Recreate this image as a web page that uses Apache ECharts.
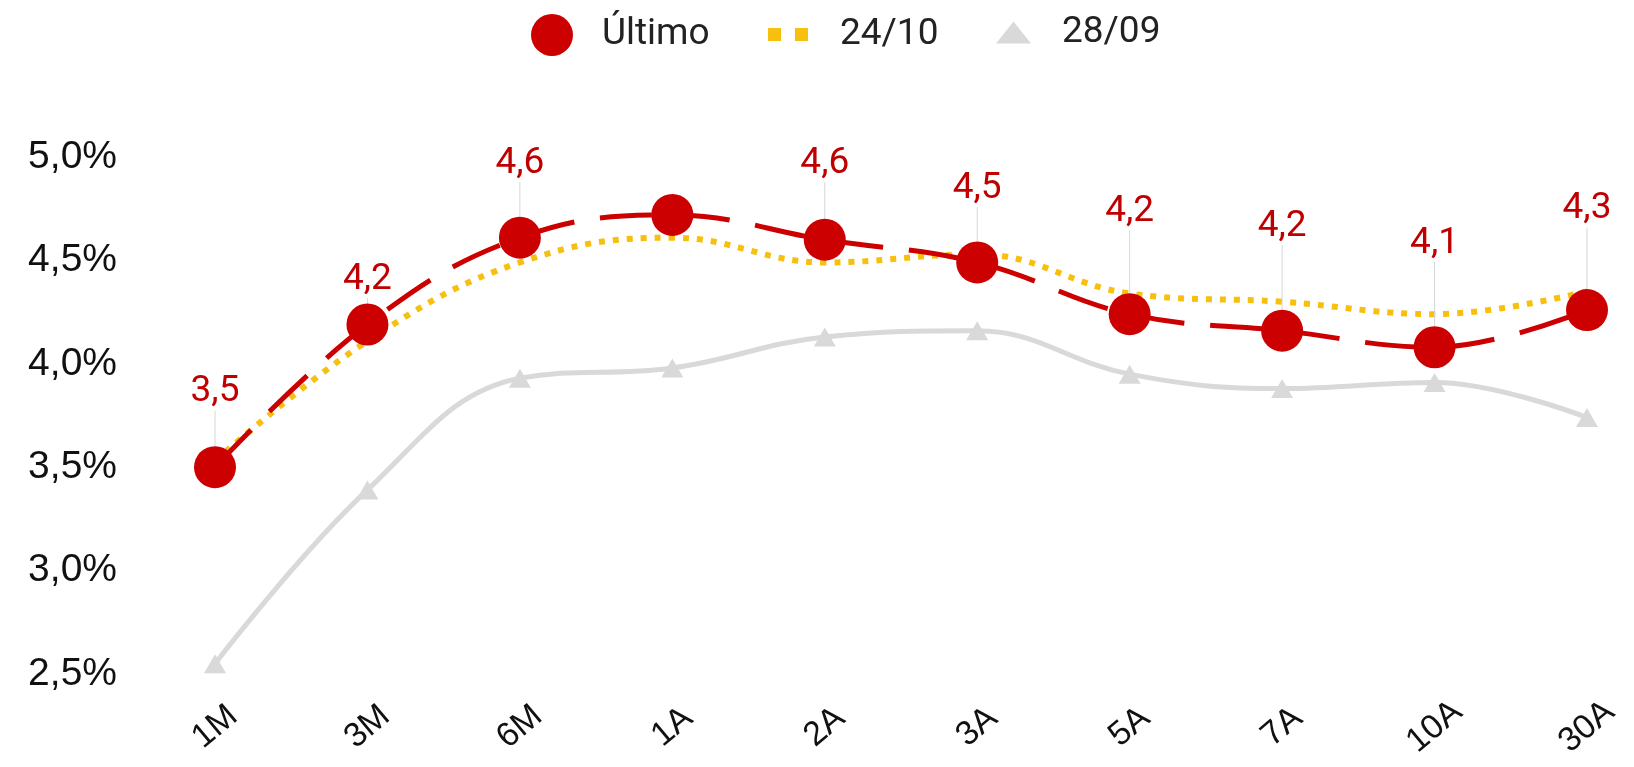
<!DOCTYPE html>
<html>
<head>
    <meta charset="utf-8" />
    <title>Curva</title>
    <script src="https://cdn.jsdelivr.net/npm/echarts@6.0.0/dist/echarts.min.js" type="text/javascript"></script>
    <style>
        body { margin: 0; background: #fff; }
        #main { width: 1634px; height: 767px; }
    </style>
</head>
<body>
    <div id="main"></div>
    <script type="text/javascript">
        // vertices
        var prazos = ['1M', '3M', '6M', '1A', '2A', '3A', '5A', '7A', '10A', '30A'];
        // taxas (%)
        var ultimo = [3.50, 4.19, 4.61, 4.72, 4.60, 4.49, 4.24, 4.16, 4.08, 4.26];
        var dia2410 = [3.53, 4.11, 4.49, 4.61, 4.49, 4.53, 4.34, 4.30, 4.24, 4.35];
        var dia2809 = [2.55, 3.39, 3.93, 3.98, 4.13, 4.16, 3.95, 3.88, 3.91, 3.74];
        var semRotulo = ['1A'];
        // altura dos rotulos acima do ponto (px)
        var subida = [75, 45, 74, 0, 76, 74, 102, 104, 104, 101];

        var vermelho = '#cc0000';
        var amarelo = '#f7c00f';
        var cinza = '#d9d9d9';

        function virgula(v) {
            return v.toFixed(1).replace('.', ',');
        }

        var dadosUltimo = ultimo.map(function (v, i) {
            return {
                value: v,
                label: { show: semRotulo.indexOf(prazos[i]) < 0 }
            };
        });

        var myChart = echarts.init(document.getElementById('main'));

        var option = {
            animation: false,
            backgroundColor: '#fff',
            legend: [
                {
                    data: ['Último'], icon: 'circle', itemWidth: 42, itemHeight: 42,
                    left: 531, top: 14, padding: 0,
                    textStyle: { fontFamily: 'Roboto', fontSize: 37, color: '#222', padding: [16, 0, 0, 24] }
                },
                {
                    data: ['24/10'], icon: 'path://M0,0h13v13h-13zM27,0h13v13h-13z', itemWidth: 40, itemHeight: 13,
                    left: 768, top: 16, padding: 0,
                    textStyle: { fontFamily: 'Roboto', fontSize: 37, color: '#222', padding: [10, 0, 0, 27] }
                },
                {
                    data: ['28/09'], icon: 'triangle', itemWidth: 35, itemHeight: 22,
                    left: 996, top: 14, padding: 0,
                    textStyle: { fontFamily: 'Roboto', fontSize: 37, color: '#222', padding: [18, 0, 0, 26] }
                }
            ],
            grid: {
                left: 215,
                right: 47,
                top: 157,
                bottom: 93
            },
            xAxis: {
                type: 'category',
                data: prazos,
                boundaryGap: false,
                axisLine: { show: false },
                axisTick: { show: false },
                axisLabel: {
                    rotate: 40,
                    align: 'center',
                    verticalAlign: 'middle',
                    margin: 53,
                    fontFamily: 'Liberation Sans',
                    fontSize: 34,
                    color: '#111'
                }
            },
            yAxis: {
                type: 'value',
                min: 2.5,
                max: 5.0,
                interval: 0.5,
                axisLine: { show: false },
                axisTick: { show: false },
                splitLine: { show: false },
                axisLabel: {
                    margin: 98,
                    fontFamily: 'Liberation Sans',
                    fontSize: 39,
                    color: '#111',
                    formatter: function (v) { return virgula(v) + '%'; }
                }
            },
            series: [
                {
                    name: '28/09',
                    type: 'line',
                    data: dia2809,
                    smooth: 0.4,
                    symbol: 'triangle',
                    symbolSize: [22, 19],
                    itemStyle: { color: cinza },
                    lineStyle: { color: cinza, width: 5 },
                    z: 2
                },
                {
                    name: '24/10',
                    type: 'line',
                    data: dia2410,
                    smooth: 0.4,
                    showSymbol: false,
                    itemStyle: { color: amarelo },
                    lineStyle: { color: amarelo, width: 6, type: [6, 8] },
                    z: 3
                },
                {
                    name: 'Último',
                    type: 'line',
                    data: dadosUltimo,
                    smooth: 0.4,
                    symbol: 'circle',
                    symbolSize: 42,
                    itemStyle: { color: vermelho },
                    lineStyle: { color: vermelho, width: 5, type: [52, 26] },
                    label: {
                        show: true,
                        position: 'top',
                        fontFamily: 'Roboto',
                        fontSize: 37,
                        color: '#c00000',
                        formatter: function (p) { return virgula(p.value); }
                    },
                    labelLine: {
                        show: true,
                        lineStyle: { color: '#d6d6d6', width: 1 }
                    },
                    labelLayout: function (params) {
                        var r = params.rect;
                        return {
                            x: r.x + r.width / 2,
                            y: r.y + r.height / 2 - subida[params.dataIndex],
                            align: 'center',
                            verticalAlign: 'middle'
                        };
                    },
                    z: 4
                }
            ]
        };
        myChart.setOption(option);
    </script>
</body>
</html>
